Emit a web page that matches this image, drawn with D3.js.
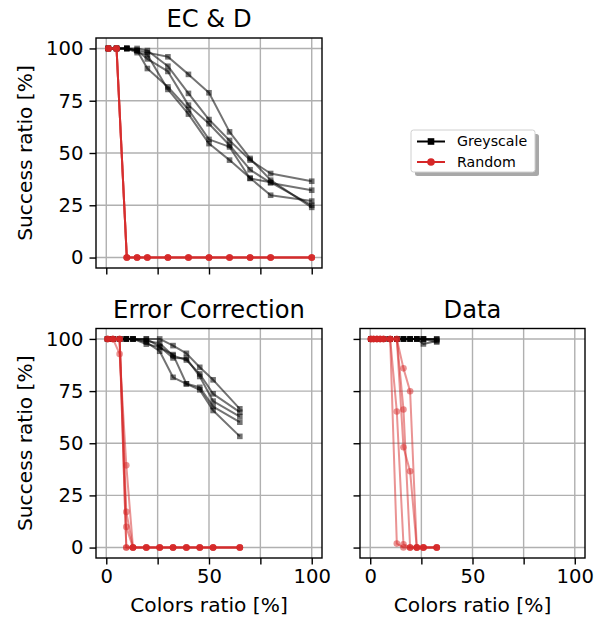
<!DOCTYPE html>
<html>
<head>
<meta charset="utf-8">
<script src="https://cdn.jsdelivr.net/npm/d3@7"></script>
<style>
  html, body { margin: 0; padding: 0; background: #fff; }
  svg { display: block; font-family: "DejaVu Sans", sans-serif; }
</style>
</head>
<body>
<svg id="chart" width="602" height="621"></svg>
<script>
// ---------------- DATA ----------------
const panelTitles = ["EC & D", "Error Correction", "Data"];
const seriesNames = ["Greyscale", "Random"];
const xTicks = [0, 25, 50, 75, 100];
const xTickLabels = ["0", "", "50", "", "100"];
const yTicks = [0, 25, 50, 75, 100];
const yTickLabels = ["0", "25", "50", "75", "100"];

// colors ratio values (x) for each panel
const xECD  = [1, 5, 10, 15, 20, 30, 40, 50, 60, 70, 80, 100];
const xEC   = [0.65, 3.25, 6.5, 9.75, 13, 19.5, 26, 32.5, 39, 45.5, 52, 65];
const xData = [0.325, 1.625, 3.25, 4.875, 6.5, 9.75, 13, 16.25, 19.5, 22.75, 26, 32.5];

// EC & D
const greyECD = [
  [100, 100, 100, 99, 98, 96, 87.6, 78.8, 60.1, 47.4, 37, 24],
  [100, 100, 100, 100, 99, 91.5, 78.5, 66, 56, 46.6, 40.2, 36.5],
  [100, 100, 100, 99, 95, 89, 72.9, 64, 53.7, 42, 35.7, 32.2],
  [100, 100, 100, 99, 90.4, 81.6, 70.8, 56.5, 52.9, 37.8, 36, 25],
  [100, 100, 100, 98, 97, 80.4, 68.6, 54.5, 46.6, 38, 29.8, 27]
];
const randomECD = [
  [100, 100, 0, 0, 0, 0, 0, 0, 0, 0, 0, 0],
  [100, 100, 0, 0, 0, 0, 0, 0, 0, 0, 0, 0],
  [100, 100, 0, 0, 0, 0, 0, 0, 0, 0, 0, 0],
  [100, 100, 0, 0, 0, 0, 0, 0, 0, 0, 0, 0],
  [100, 100, 0, 0, 0, 0, 0, 0, 0, 0, 0, 0]
];

// Error Correction
const greyEC = [
  [100, 100, 100, 100, 100, 100, 100, 96.8, 93.1, 86.4, 80.4, 66.5],
  [100, 100, 100, 100, 100, 99, 97.9, 92, 89.9, 83.2, 73.7, 64.9],
  [100, 100, 100, 100, 100, 100, 96.3, 90.9, 90.7, 82, 70.2, 62.8],
  [100, 100, 100, 100, 100, 98.5, 94.1, 81.6, 78.5, 76.8, 67.6, 60.1],
  [100, 100, 100, 100, 100, 97.5, 96, 92.5, 78.5, 75.6, 65.7, 53.3]
];
const randomEC = [
  [100, 100, 92.8, 39.4, 0, 0, 0, 0, 0, 0, 0, 0],
  [100, 100, 100, 17.1, 0, 0, 0, 0, 0, 0, 0, 0],
  [100, 100, 100, 9.9, 0, 0, 0, 0, 0, 0, 0, 0],
  [100, 100, 100, 0, 0, 0, 0, 0, 0, 0, 0, 0],
  [100, 100, 100, 0, 0, 0, 0, 0, 0, 0, 0, 0]
];

// Data
const greyData = [
  [100, 100, 100, 100, 100, 100, 100, 100, 100, 100, 100, 100],
  [100, 100, 100, 100, 100, 100, 100, 100, 100, 100, 100, 100],
  [100, 100, 100, 100, 100, 100, 100, 100, 100, 100, 100, 99.5],
  [100, 100, 100, 100, 100, 100, 100, 100, 100, 100, 97.6, 99],
  [100, 100, 100, 100, 100, 100, 100, 100, 100, 100, 100, 98.5]
];
const randomData = [
  [100, 100, 100, 100, 100, 100, 1.9, 0, 0, 0, 0, 0],
  [100, 100, 100, 100, 100, 100, 65.2, 1.6, 0, 0, 0, 0],
  [100, 100, 100, 100, 100, 100, 100, 66.2, 0, 0, 0, 0],
  [100, 100, 100, 100, 100, 100, 100, 85.9, 74.9, 0, 0, 0],
  [100, 100, 100, 100, 100, 100, 100, 48.1, 36.6, 0, 0, 0]
];

// ---------------- STYLE / LAYOUT ----------------
const GREY = "#000000", RED = "#d62728";
const FONT_TICK = 19.6, FONT_LABEL = 20.2, FONT_TITLE = 24.2, FONT_LEG = 14.2;
const svg = d3.select("#chart");

const panels = [
  { title: panelTitles[0], x: xECD, grey: greyECD, rnd: randomECD,
    box: { l: 96, r: 322, t: 38, b: 268 }, xLabels: false, yLabels: true },
  { title: panelTitles[1], x: xEC, grey: greyEC, rnd: randomEC,
    box: { l: 96, r: 322, t: 328.5, b: 558 }, xLabels: true, yLabels: true },
  { title: panelTitles[2], x: xData, grey: greyData, rnd: randomData,
    box: { l: 360, r: 585, t: 328.5, b: 558 }, xLabels: true, yLabels: false }
];

panels.forEach(p => {
  const xs = d3.scaleLinear().domain([-5, 105]).range([p.box.l, p.box.r]);
  const ys = d3.scaleLinear().domain([-5, 105]).range([p.box.b, p.box.t]);
  const g = svg.append("g");

  // grid
  g.append("g").selectAll("line").data(xTicks).join("line")
    .attr("x1", d => xs(d)).attr("x2", d => xs(d))
    .attr("y1", p.box.t).attr("y2", p.box.b)
    .attr("stroke", "#b0b0b0").attr("stroke-width", 1.4);
  g.append("g").selectAll("line").data(yTicks).join("line")
    .attr("y1", d => ys(d)).attr("y2", d => ys(d))
    .attr("x1", p.box.l).attr("x2", p.box.r)
    .attr("stroke", "#b0b0b0").attr("stroke-width", 1.4);

  // axes
  const xAxis = d3.axisBottom(xs).tickValues(xTicks).tickSize(6.5).tickPadding(5)
    .tickFormat((d, i) => p.xLabels ? xTickLabels[i] : "");
  const yAxis = d3.axisLeft(ys).tickValues(yTicks).tickSize(6.5).tickPadding(6)
    .tickFormat((d, i) => p.yLabels ? yTickLabels[i] : "");
  const gx = g.append("g").attr("transform", `translate(0,${p.box.b})`).call(xAxis);
  const gy = g.append("g").attr("transform", `translate(${p.box.l},0)`).call(yAxis);
  [gx, gy].forEach(a => {
    a.select(".domain").remove();
    a.selectAll(".tick line").attr("stroke", "#000").attr("stroke-width", 1.4);
    a.selectAll(".tick text").attr("fill", "#000").attr("font-size", FONT_TICK)
      .attr("font-family", "DejaVu Sans");
  });

  const line = d3.line().x(d => xs(d[0])).y(d => ys(d[1]));
  const drawSeries = (vals, color, marker, op) => {
    const pts = p.x.map((xv, i) => [xv, vals[i]]);
    g.append("path").datum(pts).attr("d", line)
      .attr("fill", "none").attr("stroke", color).attr("stroke-width", 2)
      .attr("stroke-linejoin", "round").attr("stroke-opacity", op);
    if (marker === "square") {
      g.append("g").selectAll("rect").data(pts).join("rect")
        .attr("x", d => xs(d[0]) - 2.8).attr("y", d => ys(d[1]) - 2.8)
        .attr("width", 5.6).attr("height", 5.6)
        .attr("fill", color).attr("fill-opacity", op);
    } else {
      g.append("g").selectAll("circle").data(pts).join("circle")
        .attr("cx", d => xs(d[0])).attr("cy", d => ys(d[1])).attr("r", 3.3)
        .attr("fill", color).attr("fill-opacity", op);
    }
  };
  p.grey.forEach(v => drawSeries(v, GREY, "square", 0.55));
  p.rnd.forEach(v => drawSeries(v, RED, "circle", 0.5));

  // frame
  g.append("rect").attr("x", p.box.l).attr("y", p.box.t)
    .attr("width", p.box.r - p.box.l).attr("height", p.box.b - p.box.t)
    .attr("fill", "none").attr("stroke", "#000").attr("stroke-width", 1.4);

  // title
  g.append("text").attr("x", (p.box.l + p.box.r) / 2).attr("y", p.box.t - 11)
    .attr("text-anchor", "middle").attr("font-size", FONT_TITLE).text(p.title);

  if (p.yLabels) {
    g.append("text")
      .attr("transform", `translate(32,${(p.box.t + p.box.b) / 2}) rotate(-90)`)
      .attr("text-anchor", "middle").attr("font-size", FONT_LABEL)
      .text("Success ratio [%]");
  }
  if (p.xLabels) {
    g.append("text").attr("x", (p.box.l + p.box.r) / 2).attr("y", 612)
      .attr("text-anchor", "middle").attr("font-size", FONT_LABEL)
      .text("Colors ratio [%]");
  }
});

// ---------------- LEGEND ----------------
const leg = svg.append("g").attr("transform", "translate(411,130)");
leg.append("rect").attr("x", 4).attr("y", 4).attr("width", 124).attr("height", 42)
  .attr("rx", 2.5).attr("fill", "#a8a8a8");
leg.append("rect").attr("x", 0).attr("y", 0).attr("width", 124).attr("height", 42)
  .attr("rx", 2.5).attr("fill", "#fff").attr("stroke", "#d0d0d0").attr("stroke-width", 1);
const legItems = [
  { name: seriesNames[0], color: GREY, marker: "square", y: 11.5 },
  { name: seriesNames[1], color: RED, marker: "circle", y: 32 }
];
legItems.forEach(it => {
  leg.append("line").attr("x1", 6).attr("x2", 34).attr("y1", it.y).attr("y2", it.y)
    .attr("stroke", it.color).attr("stroke-width", 2);
  if (it.marker === "square") {
    leg.append("rect").attr("x", 20 - 3.3).attr("y", it.y - 3.3)
      .attr("width", 6.6).attr("height", 6.6).attr("fill", it.color);
  } else {
    leg.append("circle").attr("cx", 20).attr("cy", it.y).attr("r", 3.8).attr("fill", it.color);
  }
  leg.append("text").attr("x", 46).attr("y", it.y).attr("dy", "0.35em")
    .attr("font-size", FONT_LEG).text(it.name);
});
</script>
</body>
</html>
